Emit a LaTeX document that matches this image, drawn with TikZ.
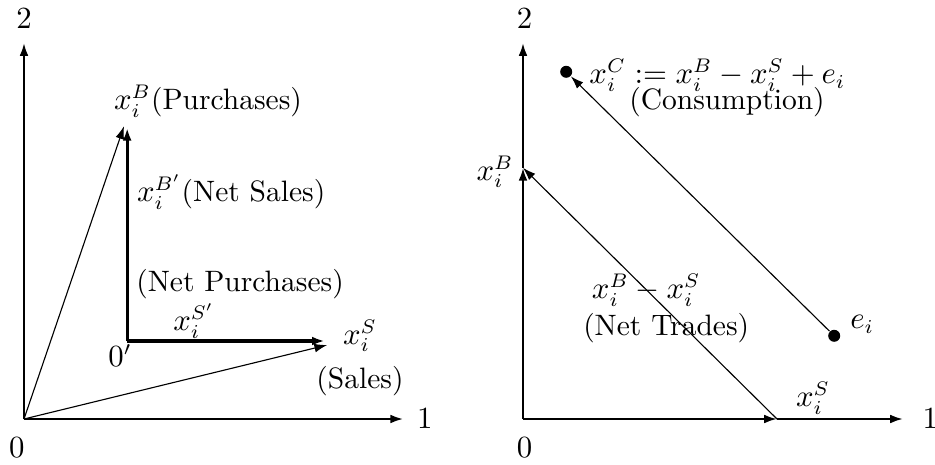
\documentclass[tikz,border=0pt]{standalone}
\usepackage{amsmath, amssymb}
\usetikzlibrary{arrows.meta, positioning, calc}

\begin{document}
\begin{tikzpicture}[
		every node/.style={inner sep=1pt, font=\fontsize{10.5}{12.5}\selectfont},
		axis/.style={-{Latex[length=1.6mm, width=1.1mm]}, line width=0.8pt},
		vec/.style={-{Latex[length=1.6mm, width=1.1mm]}, line width=0.4pt},
		netvec/.style={-{Latex[length=1.6mm, width=1.1mm]}, line width=1.2pt},
		dot/.style={circle, fill, inner sep=0pt, minimum size=1.5mm}
		]
		\useasboundingbox (-0.3,-0.5625) rectangle (11.3875,5.2375);
		
		% Left panel: purchases and sales
		\coordinate (o1) at (0,0);
		\coordinate (x1) at (4.74,0);
		\coordinate (y1) at (0,4.7);
		\node (one1) at (5.01,0) {$1$};
		\node (two1) at (0,5.01) {$2$};
		\node (zero1) at (-0.09,-0.36) {$0$};
		\draw[axis] (o1) -- (x1);
		\draw[axis] (o1) -- (y1);
		
		\coordinate (buy) at (1.25,3.66);
		\coordinate (sell) at (3.79,0.925);
		\coordinate (o1p) at (1.29,0.975);
		\coordinate (buyp) at (1.29,3.64);
		\coordinate (sellp) at (3.76,0.975);
		\draw[vec] (o1) -- (buy);
		\draw[vec] (o1) -- (sell);
		\draw[netvec] (o1p) -- (buyp);
		\draw[netvec] (o1p) -- (sellp);
		
		\node (buylabel) at (2.3,3.975) {$x_i^B$(Purchases)};
		\node (netsales) at (2.59,2.84) {$x_i^{B'}$(Net Sales)};
		\node (netpurch) at (2.7,1.69) {(Net Purchases)};
		\node (sellplabel) at (2.125,1.225) {$x_i^{S'}$};
		\node (o1plabel) at (1.2,0.79) {$0'$};
		\node (selllabel) at (4.2,1.04) {$x_i^S$};
		\node[below=0.1cm of selllabel] (sales) {(Sales)};
		
		% Right panel: net trades and consumption
		\begin{scope}[xshift=6.2375cm]
			\coordinate (o2) at (0,0);
			\coordinate (x2) at (4.75,0);
			\coordinate (y2) at (0,4.7);
			\coordinate (xs) at (3.175,0);
			\coordinate (xb) at (0,3.14);
			\node (one2) at (5.09,0) {$1$};
			\node (two2) at (0.02,5.01) {$2$};
			\node (zero2) at (0.02,-0.36) {$0$};
			\draw[axis] (o2) -- (xs);
			\draw[axis] (xs) -- (x2);
			\draw[axis] (o2) -- (xb);
			\draw[axis] (xb) -- (y2);
			\draw[vec] (xs) -- (xb);
			
			\node (xblabel) at (-0.35,3.09) {$x_i^B$};
			\node (xslabel) at (3.625,0.26) {$x_i^S$};
			\node (diff) at (1.54,1.61) {$x_i^B - x_i^S$};
			\node (trades) at (1.79,1.14) {(Net Trades)};
			
			\node[dot] (endow) at (3.89,1.04) {};
			\node[dot] (cons) at (0.54,4.34) {};
			\draw[vec] (endow) -- (cons);
			\node (endowlabel) at (4.24,1.18) {$e_i$};
			\node (conslabel) at (2.43,4.3) {$x_i^C := x_i^B - x_i^S + e_i$};
			\node (consumption) at (2.55,3.96) {(Consumption)};
		\end{scope}
		
	\end{tikzpicture}
\end{document}
